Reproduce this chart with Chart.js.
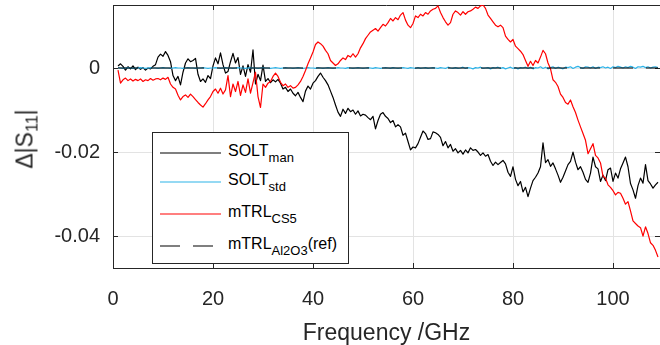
<!DOCTYPE html>
<html>
<head>
<meta charset="utf-8">
<script src="https://cdn.jsdelivr.net/npm/chart.js@4/dist/chart.umd.min.js"></script>
<style>
  html, body { margin: 0; padding: 0; background: #fff; overflow: hidden; }
  #wrap { position: relative; width: 660px; height: 345px; font-family: 'Liberation Sans', Arial, sans-serif; color: #262626; }
  #ylabel { position: absolute; left: 25px; top: 139px; transform: translate(-50%, -50%) rotate(-90deg); font-size: 23px; white-space: nowrap; line-height: 1; }
  #ylabel sub { font-size: 16px; vertical-align: -5px; line-height: 0; }
  #legend { position: absolute; left: 152px; top: 132px; width: 195px; height: 130px; border: 1px solid #262626; background: #fff; }
  .row { position: absolute; left: 0; width: 195px; height: 20px; }
  .row svg { position: absolute; left: 7px; top: 0; }
  .row span { position: absolute; left: 75px; top: 0; font-size: 16px; line-height: 20px; color: #000; white-space: nowrap; }
  .row sub { font-size: 13px; vertical-align: -6px; line-height: 0; }
</style>
</head>
<body>
<div id="wrap">
  <canvas id="chart" width="660" height="345"></canvas>
  <div id="ylabel">&Delta;|S<sub>11</sub>|</div>
  <div id="legend"></div>
</div>
<script>
// frequency grid, GHz
const freq = [
  1, 1.5, 2, 2.5, 3, 3.5, 4, 4.5, 5, 5.5, 6, 6.5, 7, 7.5, 8, 8.5, 9, 9.5, 10, 10.5,
  11, 11.5, 12, 12.5, 13, 13.5, 14, 14.5, 15, 15.5, 16, 16.5, 17, 17.5, 18, 18.5, 19, 19.5, 20, 20.5,
  21, 21.5, 22, 22.5, 23, 23.5, 24, 24.5, 25, 25.5, 26, 26.5, 27, 27.5, 28, 28.5, 29, 29.5, 30, 30.5,
  31, 31.5, 32, 32.5, 33, 33.5, 34, 34.5, 35, 35.5, 36, 36.5, 37, 37.5, 38, 38.5, 39, 39.5, 40, 40.5,
  41, 41.5, 42, 42.5, 43, 43.5, 44, 44.5, 45, 45.5, 46, 46.5, 47, 47.5, 48, 48.5, 49, 49.5, 50, 50.5,
  51, 51.5, 52, 52.5, 53, 53.5, 54, 54.5, 55, 55.5, 56, 56.5, 57, 57.5, 58, 58.5, 59, 59.5, 60, 60.5,
  61, 61.5, 62, 62.5, 63, 63.5, 64, 64.5, 65, 65.5, 66, 66.5, 67, 67.5, 68, 68.5, 69, 69.5, 70, 70.5,
  71, 71.5, 72, 72.5, 73, 73.5, 74, 74.5, 75, 75.5, 76, 76.5, 77, 77.5, 78, 78.5, 79, 79.5, 80, 80.5,
  81, 81.5, 82, 82.5, 83, 83.5, 84, 84.5, 85, 85.5, 86, 86.5, 87, 87.5, 88, 88.5, 89, 89.5, 90, 90.5,
  91, 91.5, 92, 92.5, 93, 93.5, 94, 94.5, 95, 95.5, 96, 96.5, 97, 97.5, 98, 98.5, 99, 99.5, 100, 100.5,
  101, 101.5, 102, 102.5, 103, 103.5, 104, 104.5, 105, 105.5, 106, 106.5, 107, 107.5, 108, 108.5,
  109
];

const soltMan = [
  0.0005, 0.0010, 0.0004, -0.0005, 0.0003, -0.0002, 0.0005, -0.0004, 0.0002, -0.0003,
  0.0001, -0.0005, 0.0000, -0.0002, 0.0004, 0.0008, 0.0026, 0.0033, 0.0028, 0.0039,
  0.0030, 0.0015, -0.0018, -0.0030, -0.0020, -0.0040, -0.0010, 0.0012, 0.0022, 0.0015,
  0.0018, 0.0023, -0.0015, -0.0032, -0.0026, -0.0034, -0.0018, -0.0025, 0.0005, 0.0024,
  0.0010, 0.0036, 0.0008, -0.0012, -0.0008, 0.0015, 0.0035, 0.0012, 0.0025, -0.0015,
  0.0005, -0.0020, 0.0008, -0.0010, 0.0043, -0.0038, -0.0015, -0.0030, 0.0007, -0.0032,
  -0.0025, -0.0035, -0.0028, -0.0033, -0.0027, -0.0036, -0.0050, -0.0046, -0.0056, -0.0050,
  -0.0060, -0.0066, -0.0058, -0.0070, -0.0080, -0.0055, -0.0043, -0.0050, -0.0036, -0.0030,
  -0.0020, -0.0012, -0.0022, -0.0030, -0.0040, -0.0055, -0.0070, -0.0088, -0.0105, -0.0115,
  -0.0098, -0.0108, -0.0096, -0.0104, -0.0100, -0.0110, -0.0102, -0.0114, -0.0110, -0.0112,
  -0.0118, -0.0123, -0.0115, -0.0145, -0.0125, -0.0110, -0.0106, -0.0115, -0.0120, -0.0130,
  -0.0125, -0.0140, -0.0135, -0.0140, -0.0160, -0.0155, -0.0175, -0.0195, -0.0188, -0.0190,
  -0.0180, -0.0165, -0.0150, -0.0156, -0.0170, -0.0168, -0.0152, -0.0154, -0.0158, -0.0165,
  -0.0185, -0.0175, -0.0190, -0.0182, -0.0198, -0.0192, -0.0202, -0.0196, -0.0205, -0.0195,
  -0.0202, -0.0190, -0.0196, -0.0194, -0.0200, -0.0208, -0.0202, -0.0210, -0.0206, -0.0222,
  -0.0232, -0.0224, -0.0230, -0.0225, -0.0220, -0.0228, -0.0248, -0.0258, -0.0235, -0.0265,
  -0.0280, -0.0270, -0.0295, -0.0284, -0.0306, -0.0286, -0.0268, -0.0260, -0.0250, -0.0235,
  -0.0178, -0.0225, -0.0218, -0.0234, -0.0226, -0.0240, -0.0255, -0.0272, -0.0260, -0.0245,
  -0.0230, -0.0222, -0.0200, -0.0224, -0.0242, -0.0235, -0.0248, -0.0265, -0.0272, -0.0250,
  -0.0212, -0.0235, -0.0240, -0.0270, -0.0255, -0.0268, -0.0242, -0.0238, -0.0270, -0.0250,
  -0.0262, -0.0240, -0.0226, -0.0212, -0.0235, -0.0275, -0.0290, -0.0310, -0.0280, -0.0262,
  -0.0274, -0.0230, -0.0268, -0.0276, -0.0286, -0.0278, -0.0272
];

const soltStd = [
  0.0001, 0, -0.0001, 0, 0.0001, 0, -0.0001, 0, 0, 0.0001, 0, -0.0001, 0, 0.0001, 0, 0, -0.0001, 0, 0.0001, 0,
  0, -0.0001, 0, 0.0001, 0, 0, -0.0001, 0, 0.0001, 0, 0, -0.0001, 0, 0, 0.0001, 0, -0.0001, 0, 0, 0.0001,
  0, -0.0001, 0, 0.0001, 0, 0, -0.0001, 0, 0.0001, 0, 0, -0.0001, 0, 0.0001, 0, 0, -0.0001, 0, 0.0001, 0,
  0, -0.0001, 0, 0.0001, 0, -0.0001, 0, 0.0001, 0, 0, -0.0001, 0, 0.0001, 0, -0.0001, 0, 0.0001, 0, 0, -0.0001,
  0.0001, 0, -0.0001, 0, 0.0001, 0, -0.0001, 0, 0.0001, 0, 0, -0.0001, 0.0001, 0, -0.0001, 0, 0.0001, 0, -0.0001, 0,
  0.0001, 0, -0.0001, 0.0001, 0, -0.0001, 0, 0.0001, 0, -0.0001, 0.0001, 0, -0.0001, 0, 0.0001, 0, -0.0001, 0.0001, 0, -0.0001,
  0.0001, -0.0001, 0, 0.0001, -0.0001, 0, 0.0001, 0, -0.0001, 0.0001, 0, -0.0001, 0.0002, 0, -0.0001, 0.0001, -0.0001, 0, 0.0002, -0.0001,
  0.0001, 0, -0.0002, 0.0001, 0, 0.0002, -0.0001, 0, 0.0001, -0.0002, 0.0001, 0, 0.0002, -0.0001, 0.0001, -0.0002, 0, 0.0002, -0.0001, 0.0001,
  -0.0002, 0.0001, 0, 0.0002, -0.0001, 0.0002, -0.0002, 0.0001, 0, 0.0003, -0.0001, 0.0002, -0.0002, 0.0001, 0.0003, -0.0001, 0.0002, 0, -0.0002, 0.0002,
  0.0001, 0.0003, -0.0001, 0.0002, 0.0004, 0.0001, -0.0001, 0.0003, 0.0002, 0, 0.0003, -0.0001, 0.0002, 0.0001, 0.0003, 0, 0.0002, -0.0001, 0.0003, 0.0001,
  0.0004, 0.0002, 0, 0.0003, 0.0001, 0.0004, 0.0002, -0.0001, 0.0003, 0.0002, 0.0004, 0.0001, 0.0003, 0, 0.0002, 0.0003, 0.0001
];

const mtrlCs5 = [
  -0.0005, -0.0036, -0.0028, -0.0024, -0.0030, -0.0026, -0.0031, -0.0027, -0.0030, -0.0026,
  -0.0032, -0.0028, -0.0030, -0.0025, -0.0029, -0.0026, -0.0025, -0.0028, -0.0024, -0.0027,
  -0.0022, -0.0038, -0.0046, -0.0050, -0.0065, -0.0076, -0.0068, -0.0064, -0.0070, -0.0062,
  -0.0068, -0.0075, -0.0082, -0.0088, -0.0093, -0.0085, -0.0076, -0.0068, -0.0056, -0.0050,
  -0.0060, -0.0048, -0.0062, -0.0052, -0.0018, -0.0068, -0.0038, -0.0056, -0.0032, -0.0065,
  -0.0040, -0.0058, -0.0026, -0.0060, -0.0035, -0.0010, -0.0068, -0.0094, -0.0038, -0.0046,
  -0.0036, -0.0032, -0.0020, -0.0012, -0.0020, -0.0034, -0.0042, -0.0038, -0.0046, -0.0042,
  -0.0048, -0.0046, -0.0040, -0.0032, -0.0020, -0.0006, 0.0010, 0.0024, 0.0038, 0.0056,
  0.0062, 0.0058, 0.0052, 0.0042, 0.0034, 0.0018, 0.0012, 0.0006, 0.0010, 0.0018,
  0.0024, 0.0020, 0.0030, 0.0026, 0.0034, 0.0026, 0.0034, 0.0048, 0.0058, 0.0070,
  0.0078, 0.0086, 0.0090, 0.0094, 0.0088, 0.0096, 0.0104, 0.0100, 0.0108, 0.0118,
  0.0112, 0.0120, 0.0115, 0.0126, 0.0132, 0.0114, 0.0102, 0.0096, 0.0106, 0.0124,
  0.0120, 0.0128, 0.0124, 0.0132, 0.0128, 0.0136, 0.0140, 0.0142, 0.0148, 0.0132,
  0.0120, 0.0110, 0.0102, 0.0108, 0.0128, 0.0136, 0.0132, 0.0126, 0.0134, 0.0128,
  0.0134, 0.0136, 0.0140, 0.0145, 0.0142, 0.0148, 0.0150, 0.0142, 0.0126, 0.0118,
  0.0110, 0.0102, 0.0098, 0.0102, 0.0096, 0.0076, 0.0068, 0.0062, 0.0068, 0.0052,
  0.0046, 0.0040, 0.0032, 0.0018, 0.0004, 0.0016, 0.0006, 0.0018, 0.0012, 0.0026,
  0.0042, 0.0034, 0.0012, -0.0002, -0.0028, -0.0034, -0.0044, -0.0062, -0.0070, -0.0082,
  -0.0086, -0.0076, -0.0092, -0.0106, -0.0124, -0.0140, -0.0156, -0.0172, -0.0204, -0.0192,
  -0.0180, -0.0208, -0.0214, -0.0226, -0.0258, -0.0262, -0.0278, -0.0284, -0.0292, -0.0302,
  -0.0296, -0.0298, -0.0310, -0.0324, -0.0318, -0.0340, -0.0364, -0.0370, -0.0376, -0.0380,
  -0.0400, -0.0378, -0.0394, -0.0416, -0.0422, -0.0434, -0.0450
];

// reference calibration is the zero line
const refFreq = [1, 109];
const refValues = [0, 0];

const xTicks = [0, 20, 40, 60, 80, 100];
const yTicks = [0, -0.02, -0.04];

// legend text: [name, subscript, suffix]
const legendNames = [
  ['SOLT', 'man', ''],
  ['SOLT', 'std', ''],
  ['mTRL', 'CS5', ''],
  ['mTRL', 'Al2O3', '(ref)']
];

const FONT = "'Liberation Sans', Arial, sans-serif";
const AXIS = '#262626';

function pts(xs, ys) {
  return xs.map((x, i) => ({ x: x, y: ys[i] }));
}

// inward tick marks and top box line, MATLAB style
const frame = {
  id: 'frame',
  beforeDatasetsDraw(chart) {
    const { ctx, chartArea: a, scales: { x, y } } = chart;
    ctx.save();
    ctx.strokeStyle = AXIS;
    ctx.lineWidth = 1;
    ctx.beginPath();
    ctx.moveTo(a.left, a.top + 0.5);
    ctx.lineTo(a.right, a.top + 0.5);
    xTicks.forEach(v => {
      const px = Math.round(x.getPixelForValue(v)) + 0.5;
      ctx.moveTo(px, a.bottom);
      ctx.lineTo(px, a.bottom - 5);
      ctx.moveTo(px, a.top);
      ctx.lineTo(px, a.top + 5);
    });
    yTicks.forEach(v => {
      const py = Math.round(y.getPixelForValue(v)) + 0.5;
      ctx.moveTo(a.left, py);
      ctx.lineTo(a.left + 5, py);
      ctx.moveTo(a.right, py);
      ctx.lineTo(a.right - 5, py);
    });
    ctx.stroke();
    ctx.restore();
  }
};

const datasets = [
  { label: 'SOLT man', data: pts(freq, soltMan), borderColor: '#000000', order: 4 },
  { label: 'SOLT std', data: pts(freq, soltStd), borderColor: '#2CB3E8', order: 3 },
  { label: 'mTRL CS5', data: pts(freq, mtrlCs5), borderColor: '#FF0000', order: 2 },
  { label: 'mTRL Al2O3 (ref)', data: pts(refFreq, refValues), borderColor: '#000000', borderDash: [20, 13], order: 1 }
];

new Chart(document.getElementById('chart'), {
  type: 'line',
  data: { datasets: datasets },
  options: {
    responsive: false,
    animation: false,
    devicePixelRatio: 1,
    layout: { padding: { top: 5, right: 0, bottom: 0, left: 0 } },
    elements: {
      point: { radius: 0 },
      line: { borderWidth: 1.2, tension: 0, fill: false, borderJoinStyle: 'round' }
    },
    plugins: { legend: { display: false }, tooltip: { enabled: false } },
    scales: {
      x: {
        type: 'linear',
        min: 0,
        max: 109.4,
        afterBuildTicks: s => { s.ticks = xTicks.map(v => ({ value: v })); },
        afterFit: s => { s.height = 77; s.paddingLeft = 0; s.paddingRight = 0; },
        grid: { color: '#e3e3e3', drawTicks: false },
        border: { color: AXIS, width: 1 },
        ticks: { color: AXIS, font: { family: FONT, size: 20 }, padding: 19, maxRotation: 0, autoSkip: false },
        title: { display: true, text: 'Frequency /GHz', color: AXIS, font: { family: FONT, size: 23, lineHeight: 1 }, padding: { top: 0, bottom: 0 } }
      },
      y: {
        type: 'linear',
        min: -0.0476,
        max: 0.015,
        afterBuildTicks: s => { s.ticks = yTicks.map(v => ({ value: v })); },
        afterFit: s => { s.width = 113; s.paddingTop = 0; s.paddingBottom = 0; },
        grid: { color: '#e3e3e3', drawTicks: false },
        border: { color: AXIS, width: 1 },
        ticks: {
          color: AXIS, font: { family: FONT, size: 20 }, padding: 13,
          callback: v => v === 0 ? '0' : v.toFixed(2)
        }
      }
    }
  },
  plugins: [frame]
});

// html legend so the subscripts are real text
const rowTops = [8, 37, 69, 101];
const legend = document.getElementById('legend');
datasets.forEach((ds, i) => {
  const row = document.createElement('div');
  row.className = 'row';
  row.style.top = rowTops[i] + 'px';
  const dash = ds.borderDash ? ` stroke-dasharray="${ds.borderDash.join(' ')}"` : '';
  const len = ds.borderDash ? 53 : 61;
  const [name, sub, suffix] = legendNames[i];
  row.innerHTML = `<svg width="62" height="20"><line x1="0" y1="12" x2="${len}" y2="12" stroke="${ds.borderColor}" stroke-width="1.2"${dash}/></svg>` +
    `<span>${name}<sub>${sub}</sub>${suffix}</span>`;
  legend.appendChild(row);
});
</script>
</body>
</html>
